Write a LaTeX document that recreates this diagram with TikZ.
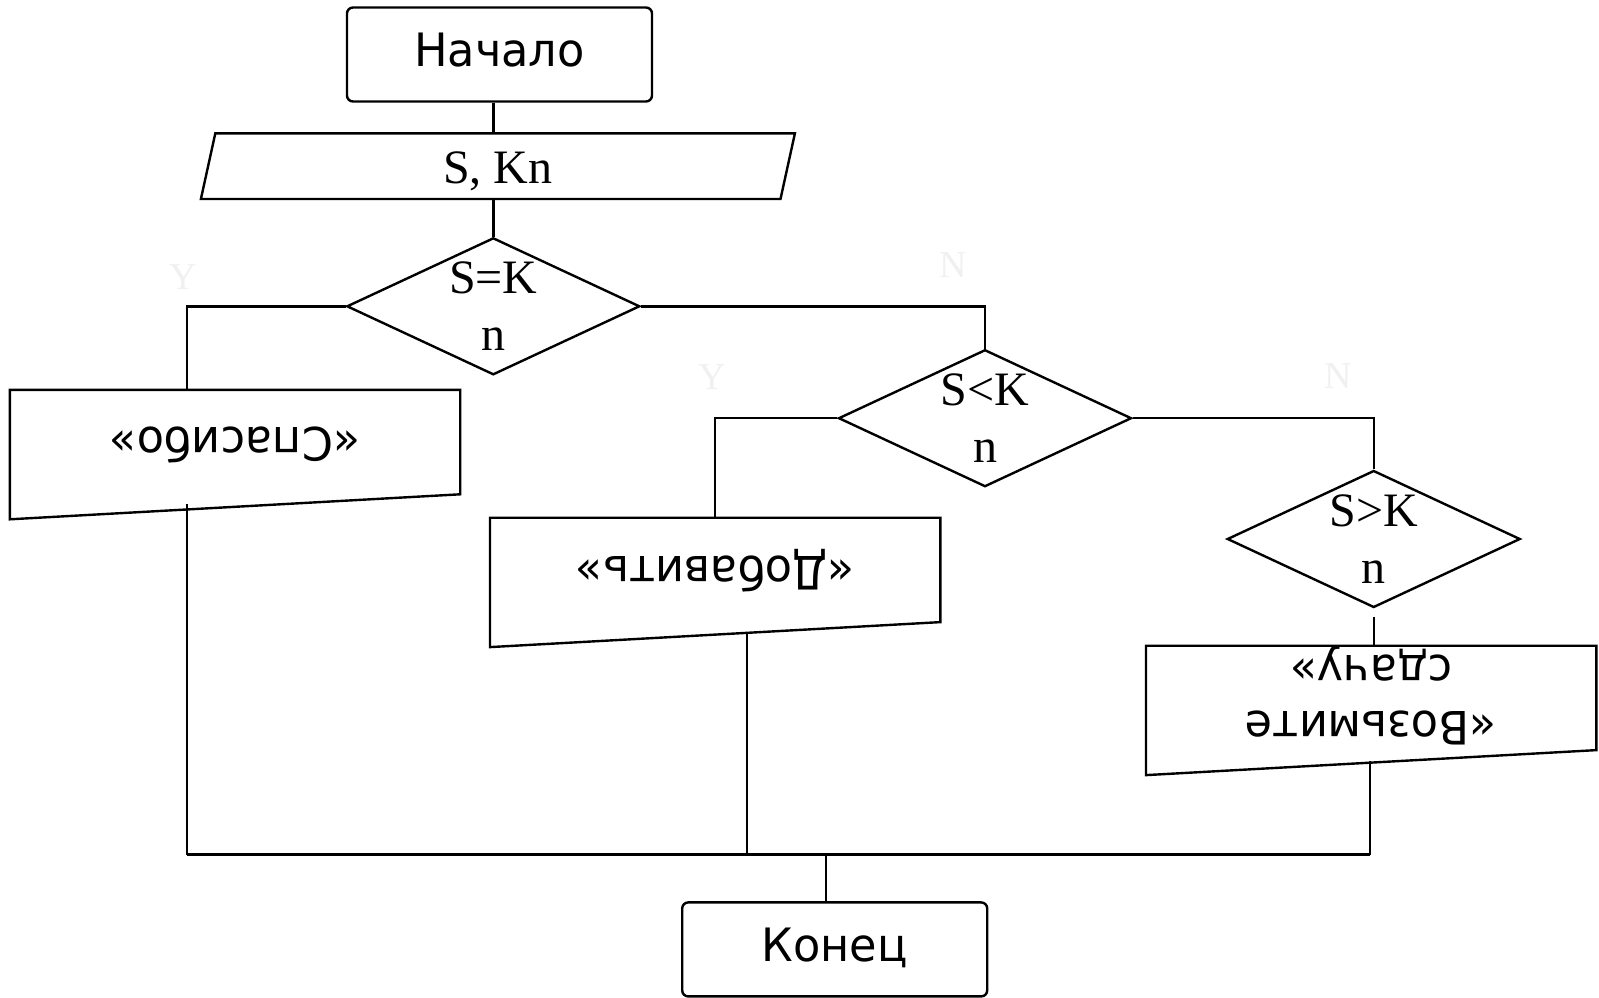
\documentclass[tikz,border=0pt]{standalone}
\usepackage{fontspec}
\setmainfont{Liberation Serif}
\newfontfamily\rusans[FakeStretch=0.97]{DejaVu Sans}
\usetikzlibrary{shapes.geometric}

\begin{document}
\begin{tikzpicture}[%
    x=0.5pt,y=-0.5pt,line width=1.2pt,
    term/.style={%
      rectangle,rounded corners=3pt,draw,minimum width=152.5pt,minimum height=47pt,
      text depth=5pt,font=\rusans\fontsize{23pt}{30pt}\selectfont},
    cond/.style={%
      diamond,draw,aspect=2.14,inner sep=0pt,minimum width=146.5pt,minimum height=68.5pt,
      align=center,font=\fontsize{24pt}{28.5pt}\selectfont},
    inbox/.style={%
      minimum width=288.6pt,minimum height=31.6pt,inner sep=0pt,text height=21pt,
      font=\fontsize{24pt}{28.5pt}\selectfont},
    outbox/.style={%
      minimum width=224pt,minimum height=63.5pt,inner sep=0pt,
      font=\rusans\fontsize{23pt}{28pt}\selectfont},
    hint/.style={text=black!6,font=\fontsize{19pt}{22pt}\selectfont}
  ]
    \useasboundingbox (0,0) rectangle (1599,997);

    \node[term]   (start)  at (499.5,54.5)   {Начало};
    \node[inbox]  (in)     at (497.9,166.2)  {S, Kn};
    \node[cond]   (d1)     at (493.3,306.3)  {S=K\\n};
    \node[cond]   (d2)     at (985,418.2)    {S<K\\n};
    \node[cond]   (d3)     at (1373.7,539)   {S>K\\n};
    \node[outbox] (thanks) at (235,454.6)
      {\raisebox{5pt}[\height][\depth]{\rotatebox{180}{«Спасибо»}}};
    \node[outbox] (add)    at (715.2,582.4)
      {\raisebox{5.6pt}[\height][\depth]{\rotatebox{180}{«Добавить»}}};
    \node[outbox] (change) at (1371.2,710.4)
      {\raisebox{8pt}[\height][\depth]{\rotatebox{180}{%
        \begin{tabular}{@{}c@{}}«Возьмите\\сдачу»\end{tabular}}}};
    \node[term]   (end)    at (834.7,949.4)  {Конец};

    \node[hint] (y1) at (183.5,277.5) {Y};
    \node[hint] (n1) at (953,265.5)   {N};
    \node[hint] (y2) at (712,377)     {Y};
    \node[hint] (n2) at (1338,376)    {N};

    \draw ([xshift=3.6pt]in.north west) -- ([xshift=3.6pt]in.north east)
      -- ([xshift=-3.6pt]in.south east) -- ([xshift=-3.6pt]in.south west) -- cycle;
    \foreach \b in {thanks,add,change}
      \draw (\b.north west) -- (\b.north east) -- ([yshift=12.5pt]\b.south east)
        -- (\b.south west) -- cycle;

    \coordinate (ja) at (186.7,854.6);
    \coordinate (jb) at (746.7,854.6);
    \coordinate (jc) at (1370,854.6);
    \coordinate (jm) at (826,854.6);

    \draw (d1.north |- start.south) -- (d1.north |- in.north);
    \draw (d1.north |- in.south) -- (d1.north);
    \draw (d1.west) -| (ja |- thanks.north);
    \draw (d1.east) -| (d2.north);
    \draw (d2.west) -| (add.north);
    \draw (d2.east) -| (d3.north);
    \draw[shorten <=4pt] (d3.south) -- (d3.south |- change.north);
    \draw[shorten <=-7.5pt] (ja |- thanks.south) -- (ja);
    \draw[shorten <=-6.5pt] (jb |- add.south) -- (jb);
    \draw[shorten <=-7pt] (jc |- change.south) -- (jc);
    \draw (ja) -- (jc);
    \draw (jm) -- (jm |- end.north);
  \end{tikzpicture}
\end{document}
